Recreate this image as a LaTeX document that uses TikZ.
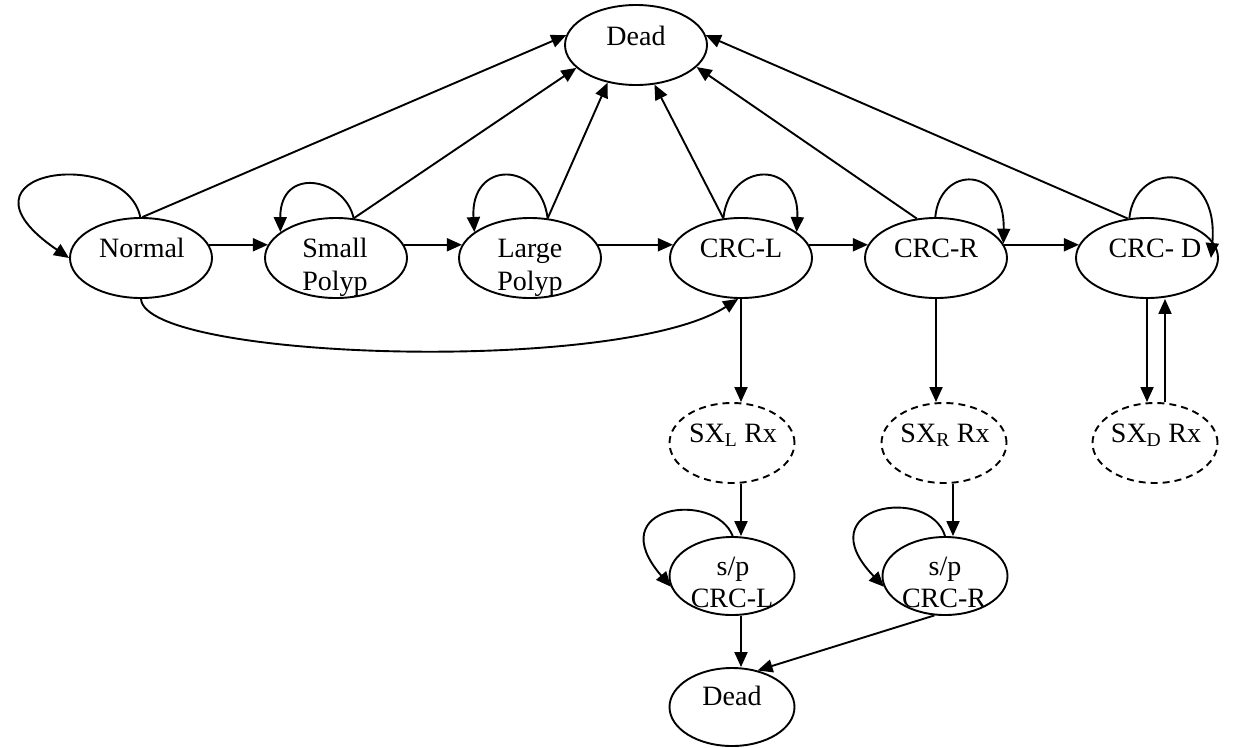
\documentclass[tikz,border=0pt]{standalone}
\usepackage{fontspec}
\setmainfont{Liberation Serif}
\usetikzlibrary{arrows.meta,shapes.geometric}
\begin{document}
\begin{tikzpicture}[x=1pt,y=-1pt,
  state/.style={ellipse,draw,line width=1.9pt,minimum width=142pt,minimum height=80pt,inner sep=0pt},
  lowstate/.style={state,minimum width=125pt,minimum height=78pt},
  treat/.style={lowstate,minimum height=80pt,dash pattern=on 7pt off 5pt},
  lbl/.style={anchor=base,inner sep=0pt,font=\fontsize{28}{33}\selectfont},
  link/.style={line width=1.9pt,-{Triangle[length=15pt,width=13pt]}},
]
\useasboundingbox (0,0) rectangle (1233,747);

% states
\node[state] (dead)  at (636,45)  {};
\node[state] (normal) at (141,258) {};
\node[state] (small) at (336,258) {};
\node[state] (large) at (530,258) {};
\node[state] (crcl)  at (741,258) {};
\node[state] (crcr)  at (936,258) {};
\node[state] (crcd)  at (1147,258) {};
\node[treat] (sxl) at (732,443) {};
\node[treat] (sxr) at (944,443) {};
\node[treat] (sxd) at (1155,443) {};
\node[lowstate] (spl) at (732,576) {};
\node[lowstate] (spr) at (945,576) {};
\node[lowstate] (deadb) at (732,707) {};

% labels
\node[lbl] (t-dead) at (636,45) {Dead};
\node[lbl] (t-normal) at (142,257) {Normal};
\node[lbl] (t-small1) at (335,257) {Small};
\node[lbl] (t-small2) at (335,290) {Polyp};
\node[lbl] (t-large1) at (530,257) {Large};
\node[lbl] (t-large2) at (530,290) {Polyp};
\node[lbl] (t-crcl) at (741,257) {CRC-L};
\node[lbl] (t-crcr) at (936,257) {CRC-R};
\node[lbl] (t-crcd) at (1155,257) {CRC- D};
\node[lbl] (t-sxl) at (733,442) {SX\textsubscript{L} Rx};
\node[lbl] (t-sxr) at (945,442) {SX\textsubscript{R} Rx};
\node[lbl] (t-sxd) at (1156,442) {SX\textsubscript{D} Rx};
\node[lbl] (t-spl1) at (733,575) {s/p};
\node[lbl] (t-spl2) at (732,607) {CRC-L};
\node[lbl] (t-spr1) at (945,575) {s/p};
\node[lbl] (t-spr2) at (944,607) {CRC-R};
\node[lbl] (t-deadb) at (732,705) {Dead};

% transitions to death
\draw[link] (normal.88) -- (dead.172);
\draw[link] (small.66) -- (dead.201);
\draw[link] (large.66) -- (dead.233);
\draw[link] (crcl.114) -- (dead.295);
\draw[link] (crcr.116) -- (dead.340);
\draw[link] (crcd.116) -- (dead.8);

% progression
\draw[link] (normal.11) -- (small.169);
\draw[link] (small.11) -- (large.169);
\draw[link] (large.11) -- (crcl.169);
\draw[link] (crcl.11) -- (crcr.169);
\draw[link] (crcr.11) -- (crcd.169);
\draw[link] (normal.270) .. controls (145,360) and (620,375) .. (crcl.266);

% staying in the same state
\draw[link] (normal.91) .. controls (125,145) and (-60,170) .. (normal.180);
\draw[link] (small.66) .. controls (345,178) and (280,165) .. (small.155);
\draw[link] (large.66) .. controls (540,160) and (470,160) .. (large.155);
\draw[link] (crcl.114) .. controls (730,160) and (800,160) .. (crcl.25);
\draw[link] (crcr.91) .. controls (940,165) and (1005,165) .. (crcr.12);
\draw[link] (crcd.114) .. controls (1135,160) and (1220,160) .. ([xshift=-8pt]crcd.east);
\draw[link] (spl.89) .. controls (715,490) and (600,505) .. (spl.190);
\draw[link] (spr.90) .. controls (930,485) and (805,505) .. (spr.190);

% treatment branches
\draw[link] (crcl.south) -- (crcl.south |- sxl.north);
\draw[link] (sxl.south -| crcl.south) -- (spl.north -| crcl.south);
\draw[link] (spl.south -| crcl.south) -- (deadb.north -| crcl.south);
\draw[link] (crcr.south) -- (crcr.south |- sxr.north);
\draw[link] ([xshift=9pt]sxr.south) -- ([xshift=8pt]spr.north);
\draw[link] (spr.255) -- (deadb.55);
\draw[link] (crcd.south) -- (crcd.south |- sxd.north);
\draw[link] ([xshift=10pt]sxd.north) -- ([xshift=18pt]crcd.south);
\end{tikzpicture}
\end{document}
